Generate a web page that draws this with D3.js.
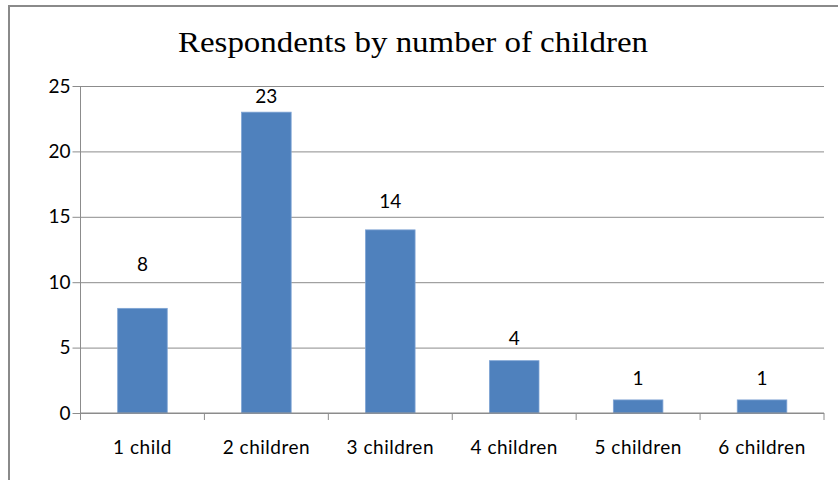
<!DOCTYPE html>
<html><head><meta charset="utf-8">
<script src="https://cdn.jsdelivr.net/npm/d3@7"></script>
<style>
html,body{margin:0;padding:0;background:#fff;}
svg{display:block;}
</style></head>
<body>
<svg id="c" width="838" height="480"></svg>
<script>
const title = "Respondents by number of children";
const categories = ["1 child","2 children","3 children","4 children","5 children","6 children"];
const values = [8, 23, 14, 4, 1, 1];
const yTicks = [0, 5, 10, 15, 20, 25];

const svg = d3.select("#c");
const W = 838, H = 480;
const m = {left: 80.5, right: 14, top: 86, bottom: 67};
const x = d3.scaleBand().domain(categories).range([m.left, W - m.right]).padding(0);
const y = d3.scaleLinear().domain([0, 25]).range([H - m.bottom, m.top]);

// frame
svg.append("line").attr("x1", 8).attr("x2", W).attr("y1", 6).attr("y2", 6)
  .attr("stroke", "#8a8a8a").attr("stroke-width", 2);
svg.append("line").attr("x1", 9).attr("x2", 9).attr("y1", 5).attr("y2", H)
  .attr("stroke", "#8a8a8a").attr("stroke-width", 2);

// title
svg.append("text").attr("x", 413).attr("y", 52).attr("text-anchor", "middle")
  .attr("font-family", "'Liberation Serif','Times New Roman',serif")
  .attr("font-size", 30).attr("fill", "#000")
  .attr("textLength", 470).attr("lengthAdjust", "spacingAndGlyphs")
  .text(title);

const font = "Lato, 'Open Sans', sans-serif";
const fs = 19;

// y axis gridlines + labels
const yAxis = d3.axisLeft(y).tickValues(yTicks).tickSize(-(W - m.right - m.left)).tickPadding(10);
const gy = svg.append("g").attr("transform", `translate(${m.left},0)`).call(yAxis);
gy.select(".domain").remove();
gy.selectAll(".tick line").attr("stroke", "#8c8c8c").attr("stroke-width", 1);
gy.selectAll(".tick").append("line").attr("x1", -8).attr("x2", 0).attr("stroke", "#8c8c8c");
gy.selectAll(".tick text").attr("font-family", font).attr("font-size", fs).attr("fill", "#000");

// y axis line
svg.append("line").attr("x1", m.left).attr("x2", m.left).attr("y1", m.top).attr("y2", y(0) + 6)
  .attr("stroke", "#8c8c8c");

// bars
const bw = x.bandwidth() * 0.4;
svg.append("g").selectAll("rect").data(values).join("rect")
  .attr("x", (d, i) => x(categories[i]) + (x.bandwidth() - bw) / 2)
  .attr("y", d => y(d))
  .attr("width", bw)
  .attr("height", d => y(0) - y(d))
  .attr("fill", "#4f81bd")
  .attr("stroke", "#7ea3d4").attr("stroke-width", 0.8);

// x axis
const xAxis = d3.axisBottom(x).tickSize(0).tickPadding(28);
const gx = svg.append("g").attr("transform", `translate(0,${y(0)})`).call(xAxis);
gx.select(".domain").attr("stroke", "#8c8c8c").attr("d", `M${m.left},0H${W - m.right}`);
gx.selectAll(".tick text").attr("font-family", font).attr("font-size", fs).attr("fill", "#000")
  .attr("letter-spacing", 0.5);
// category boundary ticks
const bounds = categories.map(c => x(c)).concat([x.range()[1]]);
gx.selectAll(".bt").data(bounds).join("line").attr("class", "bt")
  .attr("x1", d => d).attr("x2", d => d).attr("y1", 0).attr("y2", 7)
  .attr("stroke", "#8c8c8c");

// value labels (Excel placement offsets in px above bar top)
const labelLift = [37, 9, 22, 16, 15, 15];
svg.append("g").selectAll("text").data(values).join("text")
  .attr("x", (d, i) => x(categories[i]) + x.bandwidth() / 2)
  .attr("y", (d, i) => y(d) - labelLift[i])
  .attr("text-anchor", "middle")
  .attr("font-family", font).attr("font-size", fs).attr("fill", "#000")
  .text(d => d);
</script>
</body></html>
